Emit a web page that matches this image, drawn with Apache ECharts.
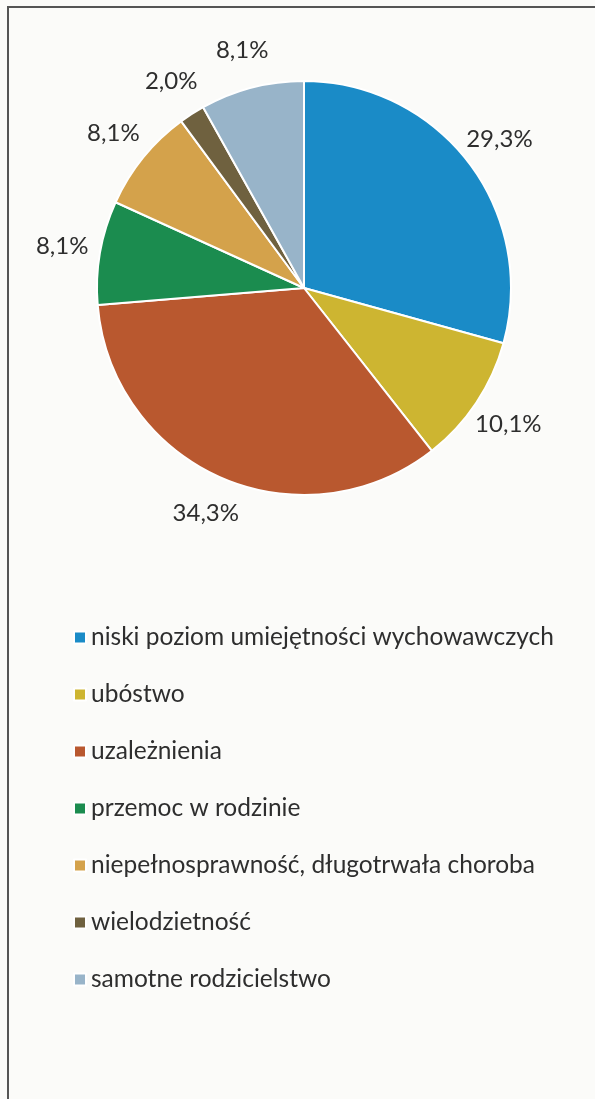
<!DOCTYPE html>
<html>
<head>
<meta charset="utf-8">
<script src="https://cdn.jsdelivr.net/npm/echarts@6/dist/echarts.min.js"></script>
<style>
    html, body { margin: 0; padding: 0; background: #fbfbf9; }
    #chart { width: 595px; height: 1099px; }
</style>
</head>
<body>
<div id="chart"></div>
<script>
// dane z wykresu
var categories = [
    "niski poziom umiejętności wychowawczych",
    "ubóstwo",
    "uzależnienia",
    "przemoc w rodzinie",
    "niepełnosprawność, długotrwała choroba",
    "wielodzietność",
    "samotne rodzicielstwo"
];
var values = [29.3, 10.1, 34.3, 8.1, 8.1, 2.0, 8.1];
var colors = ["#1a8bc7", "#cdb531", "#b9582f", "#1b8c4f", "#d4a24b", "#6f613f", "#98b4c9"];

var pieData = [];
for (var i = 0; i < categories.length; i++) {
    pieData.push({name: categories[i], value: values[i]});
}

var percentFmt = function (p) {
    return p.value.toFixed(1).replace(".", ",") + "%";
};

var myChart = echarts.init(document.getElementById("chart"));
var option = {
    backgroundColor: "#fbfbf9",
    color: colors,
    animation: false,
    graphic: [
        {
            type: "rect",
            shape: {x: 8, y: 7, width: 620, height: 1120},
            style: {fill: "none", stroke: "#555", lineWidth: 2}
        }
    ],
    legend: {
        orient: "vertical",
        left: 68,
        top: 620,
        itemWidth: 12,
        itemHeight: 12,
        itemGap: 32,
        icon: "rect",
        textStyle: {fontFamily: "Lato", fontSize: 24.5, color: "#2e2e2e"},
        data: categories
    },
    series: [
        {
            type: "pie",
            center: [304, 288],
            radius: 207,
            startAngle: 90,
            clockwise: true,
            data: pieData,
            itemStyle: {borderColor: "#fff", borderWidth: 2},
            label: {show: false},
            labelLine: {show: false}
        },
        // niewidoczny pierścień tylko dla etykiet (wyśrodkowane poza kołem)
        {
            type: "pie",
            center: [304, 288],
            radius: [207, 278],
            startAngle: 90,
            clockwise: true,
            silent: true,
            legendHoverLink: false,
            data: pieData,
            itemStyle: {color: "rgba(0,0,0,0)", borderWidth: 0},
            label: {
                show: true,
                position: "inside",
                formatter: percentFmt,
                fontFamily: "Lato",
                fontSize: 24,
                color: "#2e2e2e"
            },
            labelLine: {show: false}
        }
    ]
};
myChart.setOption(option);
</script>
</body>
</html>
